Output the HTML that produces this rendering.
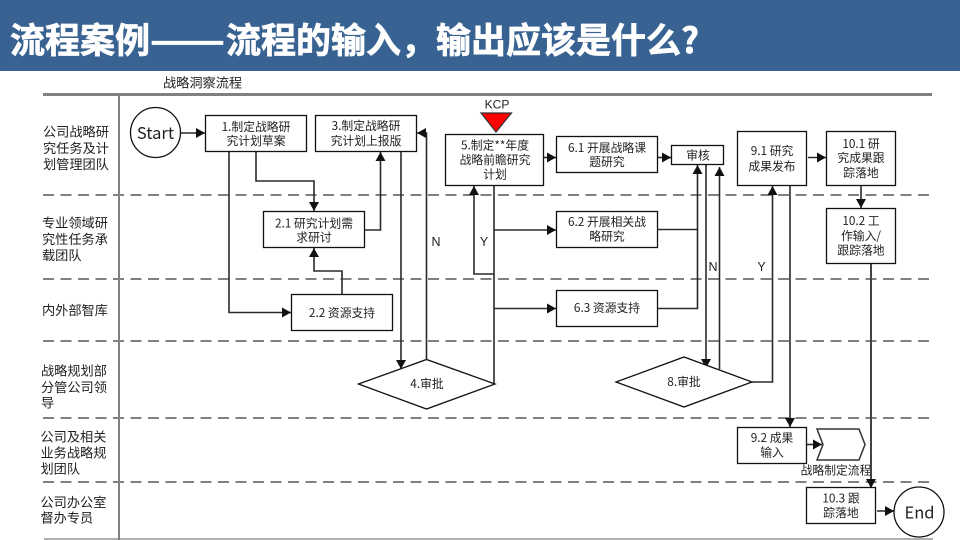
<!DOCTYPE html>
<html><head><meta charset="utf-8"><style>
html,body{margin:0;padding:0;background:#fff}
svg{display:block}
text{font-family:"Liberation Sans","Noto Sans CJK SC",sans-serif;fill:#222}
.ti{font-size:35px;font-weight:700;fill:#fff;stroke:#fff;stroke-width:.7px;font-family:"Noto Sans CJK SC","Liberation Sans",sans-serif}
.t{font-size:11.8px;text-anchor:middle;dominant-baseline:central;font-family:"Noto Sans CJK SC","Liberation Sans",sans-serif}
.l{font-size:13.2px;dominant-baseline:central;font-family:"Noto Sans CJK SC","Liberation Sans",sans-serif}
.c{font-size:16.5px;text-anchor:middle;dominant-baseline:central;font-family:"Noto Sans CJK SC","Liberation Sans",sans-serif}
.yn{font-size:12.5px;text-anchor:middle;dominant-baseline:central}
.d{stroke:#808080;stroke-width:2;stroke-dasharray:11 6.5;fill:none}
.b{fill:#fff;stroke:#111;stroke-width:1.3}
.a{fill:none;stroke:#2a2a2a;stroke-width:1.6}
.g{fill:none;stroke:#444;stroke-width:2}
.h{marker-end:url(#m)}
</style></head><body>
<svg width="960" height="540" viewBox="0 0 960 540" xmlns="http://www.w3.org/2000/svg">
<defs><marker id="m" markerUnits="userSpaceOnUse" markerWidth="11" markerHeight="11" refX="9" refY="5" orient="auto"><path d="M0 0L9 5L0 10Z" fill="#111"/></marker></defs>
<rect width="960" height="71" fill="#386291"/>
<text class="ti" x="10" y="53">流程案例</text>
<text class="ti" x="150" y="53" textLength="75" lengthAdjust="spacingAndGlyphs">——</text>
<text class="ti" x="226" y="53">流程的输入，输出应该是什么?</text>
<text x="163" y="82" class="l">战略洞察流程</text>

<line x1="43" y1="94.5" x2="932" y2="94.5" stroke="#808080" stroke-width="3"/>
<line x1="119" y1="94" x2="119" y2="540" stroke="#808080" stroke-width="2"/>
<line x1="44" y1="539" x2="933" y2="539" stroke="#808080" stroke-width="1.2"/>
<path class="d" d="M43 195H933M43 279H933M43 341H933M43 418H933M43 482H933"/>

<text class="l" x="43" y="131">公司战略研</text><text class="l" x="43" y="147.5">究任务及计</text><text class="l" x="43" y="163.5">划管理团队</text>
<text class="l" x="42" y="222">专业领域研</text><text class="l" x="42" y="238.5">究性任务承</text><text class="l" x="42" y="254.5">载团队</text>
<text class="l" x="42" y="309.5">内外部智库</text>
<text class="l" x="41" y="370">战略规划部</text><text class="l" x="41" y="386.5">分管公司领</text><text class="l" x="41" y="402">导</text>
<text class="l" x="40.5" y="436">公司及相关</text><text class="l" x="40.5" y="452">业务战略规</text><text class="l" x="40.5" y="468">划团队</text>
<text class="l" x="40.5" y="501.5">公司办公室</text><text class="l" x="40.5" y="517">督办专员</text>

<!-- connectors -->
<path class="a h" d="M181 133H205"/>
<path class="a h" d="M256 152V181H314V211"/>
<path class="a h" d="M229 152V312.5H291"/>
<path class="a h" d="M365 230H380.5V152"/>
<path class="a h" d="M342 294V271H314V248"/>
<path class="a h" d="M401 152V369"/>
<path class="a h" d="M426.5 360V133H417"/>
<path class="a h" d="M493.5 274H474V186"/>
<path class="a" d="M494 185V384"/>
<path class="a h" d="M494 230H556"/>
<path class="a h" d="M494 308.5H556"/>
<path class="a h" d="M544 157.5H556"/>
<path class="a h" d="M658 157.5H671"/>
<path class="a h" d="M657 229.5H697.5V165"/>
<path class="a" d="M657 308.5H697.5V229"/>
<path class="a h" d="M706 165V368"/>
<path class="a h" d="M719.5 369V167"/>
<path class="a h" d="M752 382H772.5V186"/>
<path class="a h" d="M790 185V427"/>
<path class="a h" d="M808 157.5H826"/>
<path class="a h" d="M861 185V208"/>
<path class="g h" d="M871 263V488"/>
<path class="a h" d="M807 444.5H822"/>
<path class="a h" d="M877 511H894"/>

<!-- terminators -->
<circle cx="155.5" cy="132.5" r="25" class="b"/><text class="c" x="155.5" y="132">Start</text>
<circle cx="919" cy="512" r="25" class="b"/><text class="c" x="919.5" y="511.5">End</text>

<!-- boxes -->
<rect class="b" x="205.5" y="115.5" width="101" height="36"/>
<text class="t" x="256" y="126.5">1.制定战略研</text><text class="t" x="256" y="140.5">究计划草案</text>
<rect class="b" x="315.5" y="115.5" width="101" height="36"/>
<text class="t" x="366" y="125.5">3.制定战略研</text><text class="t" x="366" y="140.5">究计划上报版</text>
<rect class="b" x="263.5" y="211.5" width="101" height="36"/>
<text class="t" x="314" y="223">2.1 研究计划需</text><text class="t" x="314" y="237">求研讨</text>
<rect class="b" x="291.5" y="294.5" width="101" height="36"/>
<text class="t" x="342" y="312.5">2.2 资源支持</text>
<rect class="b" x="445.5" y="134.5" width="98" height="51"/>
<text class="t" x="495" y="145">5.制定**年度</text><text class="t" x="495" y="159.5">战略前瞻研究</text><text class="t" x="495" y="174">计划</text>
<rect class="b" x="556.5" y="136.5" width="101" height="36"/>
<text class="t" x="607" y="147.5">6.1 开展战略课</text><text class="t" x="607" y="161.5">题研究</text>
<rect class="b" x="556.5" y="211.5" width="101" height="36"/>
<text class="t" x="607" y="221.5">6.2 开展相关战</text><text class="t" x="607" y="236">略研究</text>
<rect class="b" x="556.5" y="290.5" width="101" height="36"/>
<text class="t" x="607" y="307.5">6.3 资源支持</text>
<rect class="b" x="671.5" y="145.5" width="52" height="19"/>
<text class="t" x="698" y="155">审核</text>
<rect class="b" x="737.5" y="131.5" width="69" height="54"/>
<text class="t" x="772" y="150.5">9.1 研究</text><text class="t" x="772" y="166">成果发布</text>
<rect class="b" x="826.5" y="131.5" width="69" height="54"/>
<text class="t" x="861" y="143.5">10.1 研</text><text class="t" x="861" y="157.5">究成果跟</text><text class="t" x="861" y="172.5">踪落地</text>
<rect class="b" x="826.5" y="208.5" width="69" height="55"/>
<text class="t" x="861" y="220.5">10.2 工</text><text class="t" x="861" y="235.5">作输入/</text><text class="t" x="861" y="250">跟踪落地</text>
<rect class="b" x="737.5" y="427.5" width="69" height="36"/>
<text class="t" x="772" y="437.5">9.2 成果</text><text class="t" x="772" y="452">输入</text>
<rect class="b" x="806.5" y="487.5" width="69" height="36"/>
<text class="t" x="841" y="498">10.3 跟</text><text class="t" x="841" y="512.5">踪落地</text>

<!-- diamonds -->
<polygon class="b" points="358.5,384 426.5,359.5 495,384 426.5,409"/>
<text class="t" x="427" y="383.5">4.审批</text>
<polygon class="b" points="616,382 684,357 752,382 684,407"/>
<text class="t" x="684" y="381.5">8.审批</text>

<!-- chevron -->
<polygon points="817,429 859,429 865,444.5 859,460 817,460 823,444.5" fill="#fff" stroke="#333" stroke-width="1.5"/>
<text class="t" x="836" y="470">战略制定流程</text>

<!-- KCP -->
<polygon points="481,113 511.5,113 496,132" fill="#f00" stroke="#333" stroke-width="1.2"/>
<text x="497" y="104.5" style="font-size:12px;text-anchor:middle;dominant-baseline:central">KCP</text>

<text class="yn" x="436" y="242">N</text>
<text class="yn" x="484" y="242">Y</text>
<text class="yn" x="713" y="267">N</text>
<text class="yn" x="761.5" y="267">Y</text>
</svg>
</body></html>
